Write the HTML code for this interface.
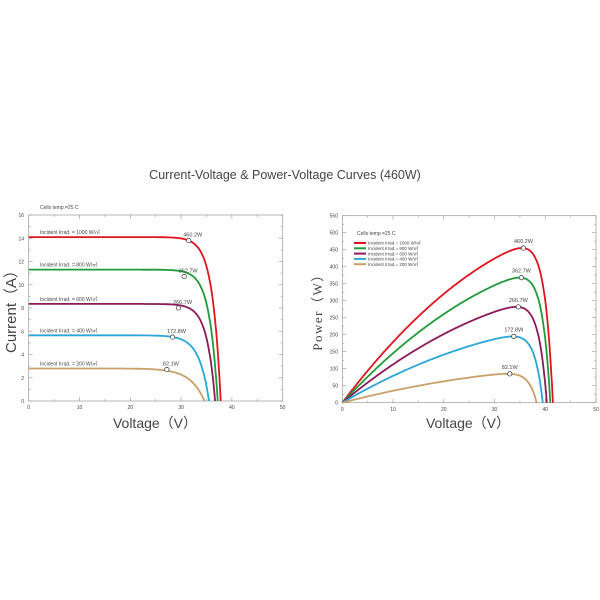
<!DOCTYPE html>
<html><head><meta charset="utf-8"><style>
html,body{margin:0;padding:0;background:#fff;width:600px;height:600px;overflow:hidden}
svg{display:block}
text{font-family:"Liberation Sans",sans-serif;fill:#444}
</style></head><body>
<svg id="s" width="600" height="600" viewBox="0 0 600 600" xmlns="http://www.w3.org/2000/svg">
<text x="285" y="179" font-size="12.5" text-anchor="middle" fill="#333">Current-Voltage &amp; Power-Voltage Curves (460W)</text>
<!-- left -->
<rect x="28.7" y="215" width="254" height="186" fill="none" stroke="#999" stroke-width="0.7"/>
<text x="40" y="209" font-size="5">Cells temp.=25 C</text>
<text x="16" y="308" font-size="15" text-anchor="middle" transform="rotate(-90 16 308)" fill="#333">Current（A）</text>
<text x="155" y="428" font-size="14" text-anchor="middle" fill="#333">Voltage（V）</text>
<!-- right -->
<rect x="342.3" y="215.7" width="253.7" height="187" fill="none" stroke="#999" stroke-width="0.7"/>
<text x="357" y="235" font-size="5">Cells temp.=25 C</text>
<text x="322" y="309" font-size="13" text-anchor="middle" transform="rotate(-90 322 309)" style="font-family:'Liberation Serif',serif;letter-spacing:1.5px" fill="#333">Power（W）</text>
<text x="468" y="428" font-size="14" text-anchor="middle" fill="#333">Voltage（V）</text>
<g id="g"></g>
</svg>
<script>
var g=document.getElementById('g'),h='';
function L(x1,y1,x2,y2){h+='<line x1="'+x1+'" y1="'+y1+'" x2="'+x2+'" y2="'+y2+'" stroke="#999" stroke-width="0.6"/>';}
function T(x,y,s,a,fs){h+='<text x="'+x+'" y="'+y+'" font-size="'+(fs||5)+'" text-anchor="'+(a||'middle')+'">'+s+'</text>';}
var lx=function(v){return 28.7+v*5.08},ly=function(i){return 401-i*11.625};
for(var v=0;v<=50;v+=5){var x=lx(v);L(x,401,x,v%10?399:397);L(x,215,x,v%10?217:219);if(v%10==0)T(x,409,v);}
for(var i=0;i<=16;i++){var y=ly(i);L(28.7,y,i%2?30.7:32.7,y);L(282.7,y,i%2?280.7:278.7,y);if(i%2==0)T(24,y+2,i,'end');}
var rx=function(v){return 342.3+v*5.074},ry=function(p){return 402.7-p*0.34};
for(var v=0;v<=50;v+=5){var x=rx(v);L(x,402.7,x,v%10?400.7:398.7);L(x,215.7,x,v%10?217.7:219.7);if(v%10==0)T(x,411,v);}
for(var p=0;p<=550;p+=25){var y=ry(p);L(342.3,y,p%50?344.3:346.3,y);L(596,y,p%50?594:592,y);if(p%50==0)T(338,y+2,p,'end');}
var C=['#e0141e','#1f9b3a','#8c1a5a','#2aa6d8','#c9a06a'];
var IV=[[14.1,37.8,31.5,13.8,'460.2W',1000],[11.3,37.2,30.6,10.7,'362.7W',800],[8.35,36.7,29.5,8.0,'266.7W',600],[5.65,35.5,28.3,5.5,'172.8W',400],[2.8,34.6,27.2,2.7,'82.1W',200]];
IV.forEach(function(c,k){var d='',a=1.63*(k==4?1.7:k==3?1.2:1);for(var v=0;v<=c[1];v+=0.1){var I=c[0]*(1-Math.exp((v-c[1])/a));if(I<0)I=0;d+=(v?'L':'M')+lx(v).toFixed(1)+','+ly(I).toFixed(1);}
d+='L'+lx(c[1]).toFixed(1)+','+ly(0);
h+='<path d="'+d+'" fill="none" stroke="'+C[k]+'" stroke-width="1.8"/>';
T(40,ly(c[0])-3,'Incident Irrad. = '+c[5]+' W/㎡','start',5);
h+='<circle cx="'+lx(c[2])+'" cy="'+ly(c[3])+'" r="2.2" fill="#fff" stroke="#333" stroke-width="0.7"/>';
T(lx(c[2])+4,ly(c[3])-4,c[4],'middle',5.5);});
var PV=[[41.5,455,35.7,'460.2W'],[41.0,368,35.3,'362.7W'],[40.3,282,34.7,'266.7W'],[39.5,195,33.8,'172.8W'],[38.3,85,33.0,'82.1W']];
PV.forEach(function(c,k){var f=function(v){var r=v*(1-0.0094*v)*(1-Math.exp((v-c[0])/1.6));return r<0?0:r;};
var m=0;for(var v=0;v<c[0];v+=0.05)m=Math.max(m,f(v));var s=c[1]/m,d='';
for(var v=0;v<=c[0];v+=0.1)d+=(v?'L':'M')+rx(v).toFixed(1)+','+ry(f(v)*s).toFixed(1);
d+='L'+rx(c[0]).toFixed(1)+','+ry(0);
h+='<path d="'+d+'" fill="none" stroke="'+C[k]+'" stroke-width="1.8"/>';
var py=ry(f(c[2])*s);
h+='<circle cx="'+rx(c[2])+'" cy="'+py+'" r="2.2" fill="#fff" stroke="#333" stroke-width="0.7"/>';
T(rx(c[2]),py-5,c[3],'middle',5.5);
var yy=243+k*5.3;h+='<line x1="354" y1="'+yy+'" x2="366" y2="'+yy+'" stroke="'+C[k]+'" stroke-width="2"/>';
T(368,yy+1.7,'Incident Irrad.= '+[1000,800,600,400,200][k]+' W/㎡','start',4.5);});
g.innerHTML=h;
</script>
</body></html>
